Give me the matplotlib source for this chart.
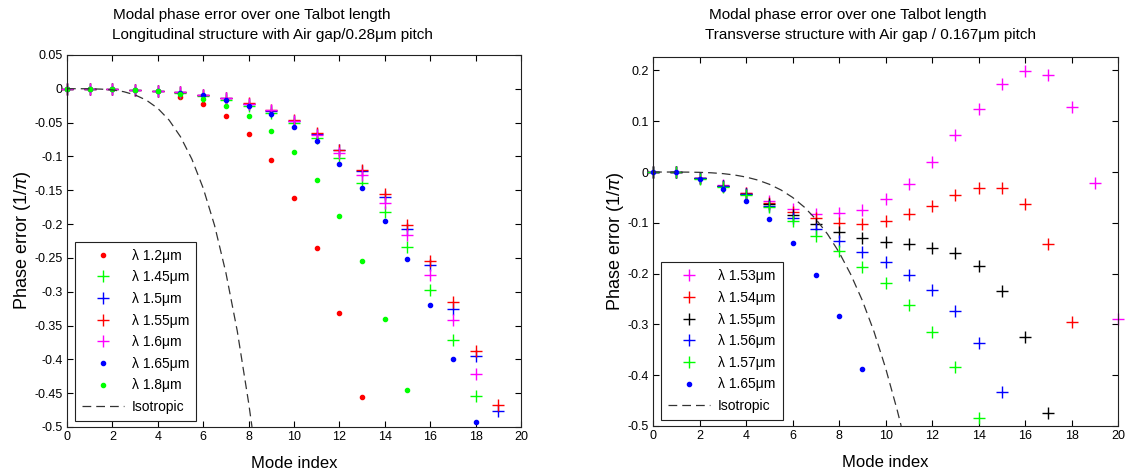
import numpy as np
import matplotlib.pyplot as plt
from matplotlib.ticker import FixedLocator

plt.rcParams['font.family'] = ['Liberation Sans', 'DejaVu Sans']
plt.rcParams['axes.unicode_minus'] = False
plt.rcParams['mathtext.fontset'] = 'custom'
plt.rcParams['mathtext.it'] = 'Liberation Sans:italic'

# ---- left panel: longitudinal structure, 0.28um pitch ----
L_12 = [0, 0, -0.001, -0.002, -0.004, -0.012, -0.022, -0.040, -0.067, -0.106, -0.162,
        -0.236, -0.332, -0.456]
L_145 = [0, 0, -0.001, -0.002, -0.004, -0.006, -0.011, -0.017, -0.025, -0.036, -0.051,
         -0.073, -0.102, -0.139, -0.182, -0.234, -0.297, -0.371, -0.454]
L_15 = [0, 0, -0.001, -0.002, -0.003, -0.005, -0.009, -0.014, -0.022, -0.033, -0.048,
        -0.067, -0.091, -0.121, -0.160, -0.207, -0.260, -0.325, -0.395, -0.477]
L_155 = [0, 0, -0.001, -0.002, -0.003, -0.005, -0.009, -0.013, -0.021, -0.031, -0.046,
         -0.066, -0.090, -0.120, -0.156, -0.202, -0.254, -0.315, -0.387, -0.468]
L_16 = [0, 0, -0.001, -0.002, -0.003, -0.005, -0.009, -0.014, -0.022, -0.032, -0.047,
        -0.069, -0.095, -0.128, -0.169, -0.216, -0.276, -0.342, -0.421]
L_165 = [0, 0, -0.001, -0.002, -0.003, -0.006, -0.010, -0.016, -0.025, -0.037, -0.056,
         -0.078, -0.111, -0.147, -0.195, -0.252, -0.319, -0.399, -0.492]
L_18 = [0, 0, -0.001, -0.002, -0.004, -0.008, -0.015, -0.025, -0.040, -0.063, -0.093,
        -0.135, -0.188, -0.255, -0.340, -0.445]
L_iso_x = [0, 0.5, 1, 1.5, 2, 2.5, 3, 3.5, 4, 4.5, 5, 5.5, 6, 6.5, 7, 7.5, 8, 8.15]
L_iso_y = [0, 0, -0.0001, -0.0006, -0.0018, -0.0044, -0.0092, -0.017, -0.029, -0.0465,
           -0.071, -0.104, -0.147, -0.202, -0.272, -0.358, -0.464, -0.5]

# ---- right panel: transverse structure, 0.167um pitch ----
R_153 = [0, 0, -0.012, -0.026, -0.042, -0.058, -0.073, -0.083, -0.081, -0.075, -0.054,
         -0.024, 0.020, 0.072, 0.125, 0.173, 0.199, 0.192, 0.129, -0.021, -0.289]
R_154 = [0, 0, -0.012, -0.027, -0.041, -0.060, -0.078, -0.091, -0.100, -0.103, -0.096,
         -0.083, -0.066, -0.045, -0.032, -0.032, -0.063, -0.142, -0.295]
R_155 = [0, 0, -0.012, -0.028, -0.043, -0.062, -0.085, -0.102, -0.119, -0.129, -0.137,
         -0.142, -0.150, -0.160, -0.185, -0.234, -0.324, -0.474]
R_156 = [0, 0, -0.012, -0.028, -0.044, -0.067, -0.091, -0.113, -0.136, -0.157, -0.178,
         -0.203, -0.232, -0.274, -0.336, -0.434]
R_157 = [0, 0, -0.013, -0.029, -0.045, -0.069, -0.096, -0.125, -0.155, -0.186, -0.219,
         -0.261, -0.314, -0.384, -0.485]
R_165 = [0, 0, -0.013, -0.034, -0.058, -0.093, -0.140, -0.203, -0.283, -0.387]
R_iso_x = [0, 0.5, 1, 1.5, 2, 2.5, 3, 3.5, 4, 4.5, 5, 5.5, 6, 6.5, 7, 7.5, 8, 8.5, 9,
           9.5, 10, 10.5, 10.67]
R_iso_y = [0, 0, 0, -0.0002, -0.0006, -0.0015, -0.0031, -0.0058, -0.0099, -0.0158,
           -0.0241, -0.0353, -0.050, -0.0689, -0.0927, -0.122, -0.158, -0.2015, -0.253,
           -0.314, -0.386, -0.469, -0.5]

RED, GREEN, BLUE, MAG = '#ff0000', '#00ff00', '#0000ff', '#ff00ff'

left_series = [
    (L_12, RED, '.', 'λ 1.2μm'),
    (L_145, GREEN, '+', 'λ 1.45μm'),
    (L_15, BLUE, '+', 'λ 1.5μm'),
    (L_155, RED, '+', 'λ 1.55μm'),
    (L_16, MAG, '+', 'λ 1.6μm'),
    (L_165, BLUE, '.', 'λ 1.65μm'),
    (L_18, GREEN, '.', 'λ 1.8μm'),
]
right_series = [
    (R_153, MAG, '+', 'λ 1.53μm'),
    (R_154, RED, '+', 'λ 1.54μm'),
    (R_155, 'k', '+', 'λ 1.55μm'),
    (R_156, BLUE, '+', 'λ 1.56μm'),
    (R_157, GREEN, '+', 'λ 1.57μm'),
    (R_165, BLUE, '.', 'λ 1.65μm'),
]

fig = plt.figure(figsize=(11.26, 4.74), dpi=100)
axL = fig.add_axes([0.0595, 0.0992, 0.4032, 0.785])
axR = fig.add_axes([0.5800, 0.1013, 0.4130, 0.779])


def draw(ax, series, iso_x, iso_y, ylim, yticks):
    for vals, col, mk, lab in series:
        idx = np.arange(len(vals))
        if mk == '+':
            ax.plot(idx, vals, linestyle='none', marker='+', color=col, ms=8,
                    mew=1.0, label=lab, clip_on=False)
        else:
            ax.plot(idx, vals, linestyle='none', marker='.', color=col, ms=6,
                    label=lab, clip_on=False)
    ax.plot(iso_x, iso_y, color='#333333', linestyle=(0, (7, 4)), lw=0.9,
            label='Isotropic')
    ax.set_xlim(0, 20)
    ax.set_ylim(*ylim)
    ax.xaxis.set_major_locator(FixedLocator(np.arange(0, 21, 2)))
    ax.yaxis.set_major_locator(FixedLocator(yticks))
    ax.set_xticklabels(['%g' % t for t in np.arange(0, 21, 2)])
    ax.set_yticklabels(['%g' % (round(t, 3) + 0.0) for t in yticks])
    ax.tick_params(direction='in', length=4, width=0.8, labelsize=9,
                   top=True, right=True, pad=3)
    for s in ax.spines.values():
        s.set_linewidth(0.8)
        s.set_color('#222222')
    ax.set_xlabel('Mode index', fontsize=12, labelpad=9)
    ax.set_ylabel('Phase error (1/$\\mathit{\\pi}$)', fontsize=13, labelpad=1)
    leg = ax.legend(loc='lower left', bbox_to_anchor=(0.0176, 0.016),
                    borderaxespad=0, fontsize=10, handlelength=3,
                    labelspacing=0.55, handletextpad=0.6, borderpad=0.5,
                    fancybox=False, framealpha=1, edgecolor='#222222')
    leg.get_frame().set_linewidth(0.8)


draw(axL, left_series, L_iso_x, L_iso_y, (-0.5, 0.05),
     np.round(np.arange(-0.5, 0.051, 0.05), 3))
draw(axR, right_series, R_iso_x, R_iso_y, (-0.5, 0.227),
     np.round(np.arange(-0.5, 0.21, 0.1), 3))

fig.text(0.2238, 0.968, 'Modal phase error over one Talbot length', ha='center',
         va='center', fontsize=11)
fig.text(0.2416, 0.926, 'Longitudinal structure with Air gap/0.28μm pitch',
         ha='center', va='center', fontsize=11)
fig.text(0.7531, 0.968, 'Modal phase error over one Talbot length', ha='center',
         va='center', fontsize=11)
fig.text(0.7735, 0.926, 'Transverse structure with Air gap / 0.167μm pitch',
         ha='center', va='center', fontsize=11)

fig.savefig('out.png', dpi=100)
